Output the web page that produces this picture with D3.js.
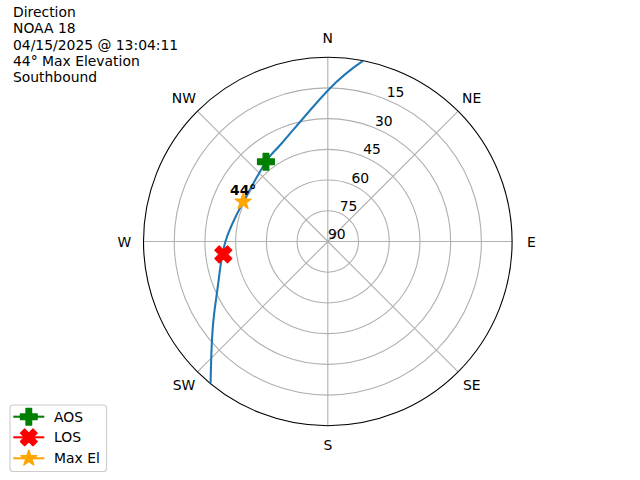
<!DOCTYPE html>
<html>
<head>
<meta charset="utf-8">
<script src="https://cdn.jsdelivr.net/npm/d3@7"></script>
<style>
  html, body { margin: 0; padding: 0; background: #fff; }
  text { font-family: "DejaVu Sans", sans-serif; }
</style>
</head>
<body>
<script>
// ---------------- data ----------------
const titleLines = ["Direction", "NOAA 18", "04/15/2025 @ 13:04:11", "44° Max Elevation", "Southbound"];
const trackAz = [11.1, 0.2, 334.9, 322.2, 295.2, 269.6, 249.8, 237.1, 227.4, 219.5];
const trackEl = [0, 16.0, 37.0, 40.7, 44.4, 39.9, 33.1, 23.8, 12.9, 0];
const markerNames = ["AOS", "LOS", "Max El"];
const markerAz = [322.2, 263.0, 295.2];
const markerEl = [40.7, 38.6, 44.3];
const markerColors = ["green", "red", "orange"];
const maxElLabel = "44°";
const radialTicks = [15, 30, 45, 60, 75, 90];
const compassLabels = ["N", "NE", "E", "SE", "S", "SW", "W", "NW"];
const compassAngles = [0, 45, 90, 135, 180, 225, 270, 315];

// ---------------- layout ----------------
const W = 640, H = 480;
const cx = 327.8, cy = 241.5, R = 184.3;
const fs = 13.9;

const svg = d3.select("body").append("svg").attr("width", W).attr("height", H);

const rScale = d3.scaleLinear().domain([90, 0]).range([0, R]);
const aScale = d3.scaleLinear().domain([0, 360]).range([0, 2 * Math.PI]);
const pos = (az, el) => {
  const a = aScale(az), r = rScale(el);
  return [cx + r * Math.sin(a), cy - r * Math.cos(a)];
};

const g = svg.append("g").attr("transform", `translate(${cx},${cy})`);

svg.append("defs").append("clipPath").attr("id", "clipc")
  .append("circle").attr("cx", 0).attr("cy", 0).attr("r", R);

// grid rings
g.selectAll("circle.ring").data(radialTicks.filter(d => d < 90)).enter()
  .append("circle").attr("class", "ring")
  .attr("r", d => rScale(d)).attr("fill", "none")
  .attr("stroke", "#b0b0b0").attr("stroke-width", 1.1);

// spokes
g.selectAll("line.spoke").data(compassAngles).enter()
  .append("line")
  .attr("x1", 0).attr("y1", 0)
  .attr("x2", d => R * Math.sin(aScale(d)))
  .attr("y2", d => -R * Math.cos(aScale(d)))
  .attr("stroke", "#b0b0b0").attr("stroke-width", 1.1);

// outer circle
g.append("circle").attr("r", R).attr("fill", "none").attr("stroke", "black").attr("stroke-width", 1.1);

// compass labels
g.selectAll("text.compass").data(compassLabels).enter()
  .append("text")
  .attr("x", (d, i) => 203.5 * Math.sin(aScale(compassAngles[i])))
  .attr("y", (d, i) => -203.5 * Math.cos(aScale(compassAngles[i])))
  .attr("text-anchor", "middle").attr("dominant-baseline", "central")
  .attr("font-size", fs).text(d => d);

// radial labels
g.selectAll("text.rlab").data(radialTicks).enter()
  .append("text")
  .attr("x", d => rScale(d) * Math.sin(aScale(22.5)) + 9)
  .attr("y", d => -rScale(d) * Math.cos(aScale(22.5)) - 7.2)
  .attr("text-anchor", "middle").attr("dominant-baseline", "central")
  .attr("font-size", fs).text(d => d);

// track
const trackData = trackAz.map((a, i) => [aScale(a), rScale(trackEl[i])]);
const line = d3.lineRadial().angle(d => d[0]).radius(d => d[1]).curve(d3.curveNatural);
g.append("path").attr("d", line(trackData))
  .attr("clip-path", "url(#clipc)")
  .attr("fill", "none").attr("stroke", "#1f77b4").attr("stroke-width", 2.08);

// marker shapes
const ms = 16.67;
function plusPath(s) {
  const pts = [[-1,-3],[1,-3],[1,-1],[3,-1],[3,1],[1,1],[1,3],[-1,3],[-1,1],[-3,1],[-3,-1],[-1,-1]];
  return "M" + pts.map(p => [p[0] * s / 6, p[1] * s / 6].join(",")).join("L") + "Z";
}
function xPath(s) {
  const pts = [[-1,-2],[0,-1],[1,-2],[2,-1],[1,0],[2,1],[1,2],[0,1],[-1,2],[-2,1],[-1,0],[-2,-1]];
  return "M" + pts.map(p => [p[0] * s / 4, p[1] * s / 4].join(",")).join("L") + "Z";
}
function starPath(s) {
  const ro = s / 2, ri = ro * 0.381966;
  const pts = [];
  for (let k = 0; k < 10; k++) {
    const r = k % 2 === 0 ? ro : ri;
    const a = k * Math.PI / 5;
    pts.push([r * Math.sin(a), -r * Math.cos(a)]);
  }
  return "M" + pts.map(p => p.join(",")).join("L") + "Z";
}
const shapeFns = [plusPath, xPath, starPath];

function drawMarker(sel, i, x, y) {
  sel.append("path").attr("d", shapeFns[i](ms))
    .attr("transform", `translate(${x},${y})`)
    .attr("fill", markerColors[i]).attr("stroke", markerColors[i])
    .attr("stroke-width", 1.39).attr("stroke-linejoin", "round");
}

markerNames.forEach((n, i) => {
  const [x, y] = pos(markerAz[i], markerEl[i]);
  drawMarker(svg, i, x, y);
});

// max el annotation
const [mx, my] = pos(markerAz[2], markerEl[2]);
svg.append("text").attr("x", mx).attr("y", my - 6.5)
  .attr("text-anchor", "middle").attr("font-size", fs).attr("font-weight", "bold")
  .text(maxElLabel);

// title
svg.append("g").selectAll("text").data(titleLines).enter()
  .append("text").attr("x", 13).attr("y", (d, i) => 17 + i * 16.25)
  .attr("font-size", fs).text(d => d);

// legend
const lg = svg.append("g");
lg.append("rect").attr("x", 10).attr("y", 405).attr("width", 96.5).attr("height", 66.5)
  .attr("rx", 3).attr("fill", "white").attr("fill-opacity", 0.8)
  .attr("stroke", "#cccccc").attr("stroke-width", 1.1);
const rowY = [416.7, 437.3, 458.3];
markerNames.forEach((n, i) => {
  lg.append("line").attr("x1", 13.3).attr("x2", 44.3).attr("y1", rowY[i]).attr("y2", rowY[i])
    .attr("stroke", markerColors[i]).attr("stroke-width", 2.08);
  drawMarker(lg, i, 28.8, rowY[i]);
  lg.append("text").attr("x", 54).attr("y", rowY[i]).attr("dominant-baseline", "central")
    .attr("font-size", fs).text(n);
});
</script>
</body>
</html>
